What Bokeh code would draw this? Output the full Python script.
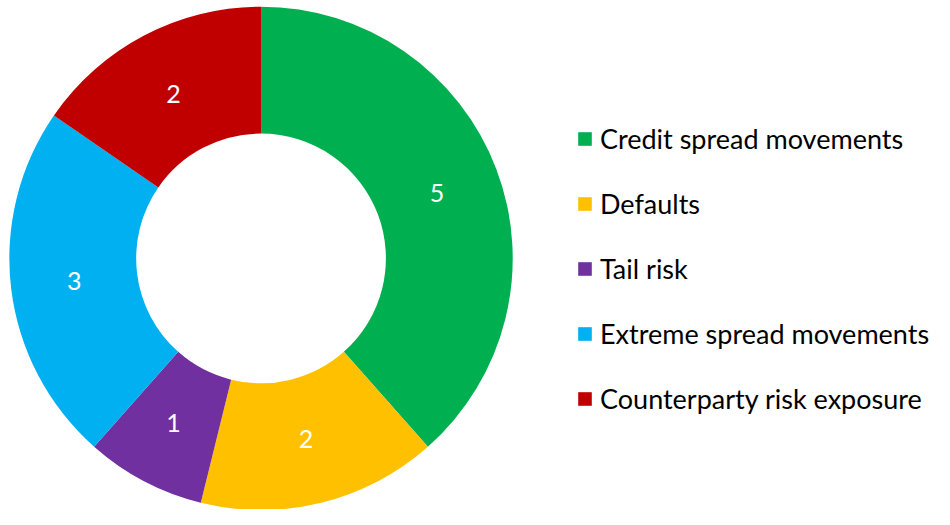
import numpy as np
from bokeh.plotting import figure
from bokeh.models import ColumnDataSource, Range1d, Legend, LegendItem
from bokeh.core.properties import value
from bokeh.embed import file_html
from bokeh.resources import INLINE

categories = ["Credit spread movements", "Defaults", "Tail risk",
              "Extreme spread movements", "Counterparty risk exposure"]
counts = [5, 2, 1, 3, 2]
colors = ["#00B050", "#FFC000", "#7030A0", "#00B0F0", "#C00000"]

W, H = 934, 509
p = figure(width=W, height=H, output_backend="svg", toolbar_location=None,
           x_range=Range1d(0, 950), y_range=Range1d(0, 525),
           min_border=0, outline_line_color=None)
p.axis.visible = False
p.grid.visible = False
p.background_fill_color = "white"
p.border_fill_color = "white"

# layout in reference-picture coordinates (y measured upward)
cx, cy = 265, 525 - 266
R_out, R_in = 256, 127

vals = np.array(counts, dtype=float)
cum = np.concatenate([[0], np.cumsum(vals)]) / vals.sum()
start = np.pi / 2 - 2 * np.pi * cum[1:]
end = np.pi / 2 - 2 * np.pi * cum[:-1]
mid = (start + end) / 2
rl = (R_out + R_in) / 2

src = ColumnDataSource(dict(cat=categories, val=[str(c) for c in counts], color=colors,
                            start=start, end=end,
                            lx=cx + rl * np.cos(mid), ly=cy + rl * np.sin(mid)))

r = p.annular_wedge(x=cx, y=cy, inner_radius=R_in, outer_radius=R_out,
                    start_angle="start", end_angle="end", direction="anticlock",
                    fill_color="color", line_color=None, source=src)

p.text(x="lx", y="ly", text="val", source=src, text_color="white",
       text_font=value("Lato"), text_font_size="25px",
       text_align="center", text_baseline="middle")

items = [LegendItem(label=c, renderers=[r], index=i) for i, c in enumerate(categories)]
legend = Legend(items=items, location=(576, 94), orientation="vertical",
                glyph_width=17, glyph_height=17, label_height=34, spacing=31,
                label_standoff=7, padding=0, margin=0,
                label_text_font="Lato", label_text_font_size="27px",
                label_text_color="#000000",
                border_line_alpha=0, background_fill_alpha=0)
p.add_layout(legend)

open("out.html", "w").write(file_html(p, INLINE))
